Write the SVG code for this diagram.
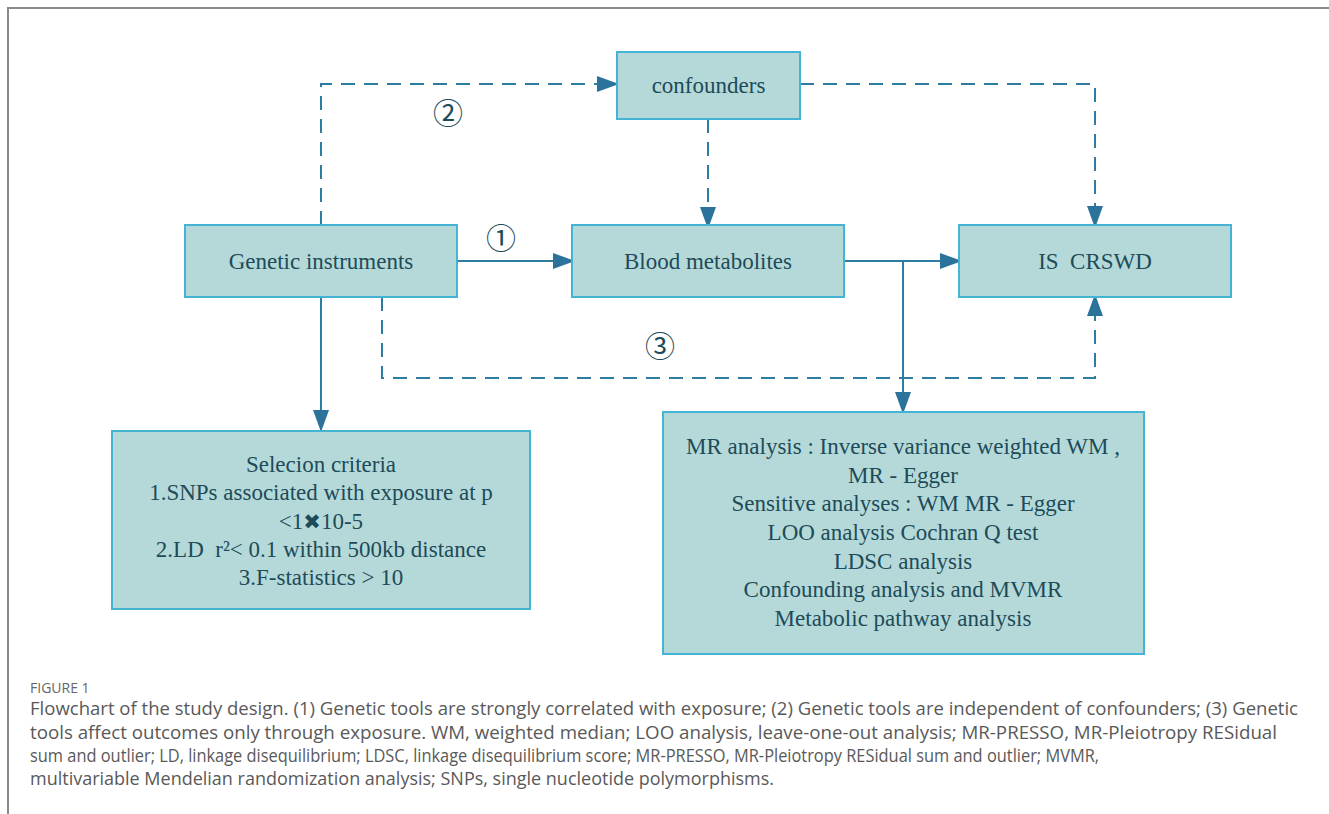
<svg xmlns="http://www.w3.org/2000/svg" width="1329" height="814" viewBox="0 0 1329 814">
<style>
.box{fill:#b5d9d8;stroke:#45b3d3;stroke-width:2}
.lbl{font-family:"Liberation Serif","Times New Roman",serif;font-size:23px;fill:#1d4b59;text-anchor:middle}
.num{font-family:"Noto Sans CJK SC","DejaVu Sans",sans-serif;font-size:30px;fill:#1d4b59;text-anchor:middle}
.ln{fill:none;stroke:#2f7ca3;stroke-width:2}
.dash{stroke-dasharray:14 9}
.cap{font-family:"Open Sans","Noto Sans",sans-serif;fill:#595959;font-size:17.5px}
.fig{font-family:"Open Sans","Noto Sans",sans-serif;fill:#666;font-size:14px}
</style>
<defs>
<marker id="arr" markerUnits="userSpaceOnUse" markerWidth="24" markerHeight="18" refX="22" refY="8" orient="auto">
<path d="M0,0 L22,8 L0,16 Z" fill="#2b739a"/>
</marker>
</defs>
<rect width="1329" height="814" fill="#fff"/>
<path d="M8,814 V8 H1329" fill="none" stroke="#8a8a8a" stroke-width="2"/>

<g id="connectors">
<path class="ln" d="M457,261 H575" marker-end="url(#arr)"/>
<path class="ln" d="M844,261 H962" marker-end="url(#arr)"/>
<path class="ln" d="M903,261 V414" marker-end="url(#arr)"/>
<path class="ln" d="M321,297 V432" marker-end="url(#arr)"/>
<path class="ln dash" d="M321,225 V84 H619" marker-end="url(#arr)"/>
<path class="ln dash" d="M708,119 V229" marker-end="url(#arr)"/>
<path class="ln dash" d="M800,84 H1095 V228" marker-end="url(#arr)"/>
<path class="ln dash" d="M382,297 V378 H1095 V294" marker-end="url(#arr)"/>
</g>

<g id="n-confounders">
<rect class="box" x="617" y="52" width="183" height="67"/>
<text class="lbl" x="708.5" y="93">confounders</text>
</g>
<g id="n-genetic">
<rect class="box" x="185" y="225" width="272" height="72"/>
<text class="lbl" x="321" y="269">Genetic instruments</text>
</g>
<g id="n-blood">
<rect class="box" x="572" y="225" width="272" height="72"/>
<text class="lbl" x="708" y="269">Blood metabolites</text>
</g>
<g id="n-is">
<rect class="box" x="959" y="225" width="272" height="72"/>
<text class="lbl" x="1095" y="269" xml:space="preserve">IS  CRSWD</text>
</g>
<g id="n-selection">
<rect class="box" x="112" y="431" width="418" height="178"/>
<text class="lbl" x="321" y="472">Selecion criteria</text>
<text class="lbl" x="321" y="500">1.SNPs associated with exposure at p</text>
<text class="lbl" x="321" y="529">&lt;1<tspan font-family="DejaVu Sans,sans-serif" font-size="21px">✖</tspan>10-5</text>
<text class="lbl" x="321" y="557" xml:space="preserve">2.LD  r²&lt; 0.1 within 500kb distance</text>
<text class="lbl" x="321" y="585">3.F-statistics &gt; 10</text>
</g>
<g id="n-mr">
<rect class="box" x="663" y="412" width="481" height="242"/>
<text class="lbl" x="903" y="454">MR analysis : Inverse variance weighted WM ,</text>
<text class="lbl" x="903" y="483">MR - Egger</text>
<text class="lbl" x="903" y="511">Sensitive analyses : WM MR - Egger</text>
<text class="lbl" x="903" y="540">LOO analysis Cochran Q test</text>
<text class="lbl" x="903" y="569">LDSC analysis</text>
<text class="lbl" x="903" y="597">Confounding analysis and MVMR</text>
<text class="lbl" x="903" y="626">Metabolic pathway analysis</text>
</g>

<g id="labels">
<text class="num" x="501" y="249">①</text>
<text class="num" x="448" y="124">②</text>
<text class="num" x="660" y="357">③</text>
</g>

<g id="caption">
<text class="fig" x="30" y="693">FIGURE 1</text>
<text class="cap" x="30" y="715" textLength="1268" lengthAdjust="spacingAndGlyphs">Flowchart of the study design. (1) Genetic tools are strongly correlated with exposure; (2) Genetic tools are independent of confounders; (3) Genetic</text>
<text class="cap" x="30" y="739" textLength="1247" lengthAdjust="spacingAndGlyphs">tools affect outcomes only through exposure. WM, weighted median; LOO analysis, leave-one-out analysis; MR-PRESSO, MR-Pleiotropy RESidual</text>
<text class="cap" x="30" y="762" textLength="1069" lengthAdjust="spacingAndGlyphs">sum and outlier; LD, linkage disequilibrium; LDSC, linkage disequilibrium score; MR-PRESSO, MR-Pleiotropy RESidual sum and outlier; MVMR,</text>
<text class="cap" x="30" y="785" textLength="744" lengthAdjust="spacingAndGlyphs">multivariable Mendelian randomization analysis; SNPs, single nucleotide polymorphisms.</text>
</g>
</svg>
